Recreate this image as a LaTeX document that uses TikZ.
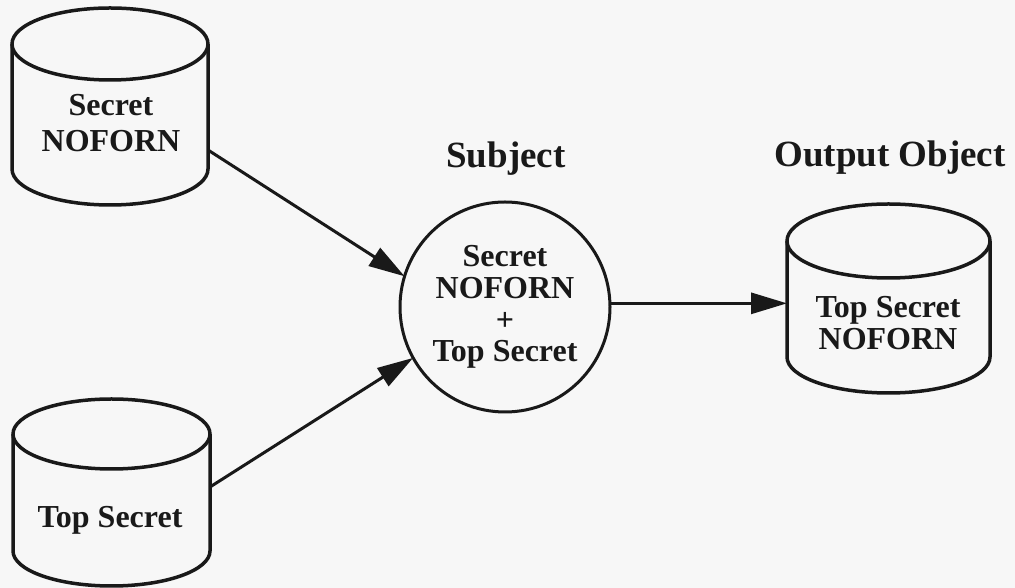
\documentclass[tikz,border=0pt]{standalone}
\usepackage{fontspec}
\setmainfont{Liberation Serif}
\usetikzlibrary{arrows.meta}

% outline of a drum (database cylinder) around a named body node
\newcommand{\drawdrum}[4]{% name, x radius, top y radius, bottom y radius
  \draw[drumline] (#1.north west) -- (#1.south west)
    arc[start angle=180, end angle=360, x radius=#2, y radius=#4]
    -- (#1.north east);
  \draw[drumline] (#1.north) ellipse [x radius=#2, y radius=#3];
}

\begin{document}
\begin{tikzpicture}[x=1pt, y=1pt,
  drumbody/.style={rectangle, draw=none, inner sep=0pt, outer sep=0pt},
  drumline/.style={draw=black!90, line width=3.5pt, line join=round},
  inlabel/.style={font=\bfseries\fontsize{32}{32}\selectfont, align=center, inner sep=0pt, text=black!90},
  toplabel/.style={font=\bfseries\fontsize{37}{40}\selectfont, inner sep=0pt, anchor=base, text=black!90},
  subj/.style={circle, draw=black!90, line width=3pt, minimum size=210pt, inner sep=0pt, outer sep=0pt,
    align=center, font=\bfseries\fontsize{32}{31.7}\selectfont, text=black!90},
  flow/.style={draw=black!90, line width=3pt, -{Triangle[length=36pt, width=21pt]}}]

  \fill[black!3] (0,0) rectangle (1015,588);
  \useasboundingbox (0,0) rectangle (1015,588);

  % input objects
  \node[drumbody, minimum width=196pt, minimum height=125pt] (A) at (110,481.5) {};
  \drawdrum{A}{98pt}{36pt}{36pt}
  \node[inlabel, font=\bfseries\fontsize{32}{36}\selectfont] (At) at (111,465) {Secret\\NOFORN};

  \node[drumbody, minimum width=197pt, minimum height=117pt] (B) at (111.5,95.5) {};
  \drawdrum{B}{98.5pt}{35pt}{35pt}
  \node[inlabel, anchor=base] (Bt) at (110,60) {Top Secret};

  % subject
  \node[subj] (S) at (505,281) {Secret\\NOFORN\\+\\Top Secret};
  \node[toplabel] (Sl) at (506,420) {Subject};

  % output object
  \node[drumbody, minimum width=203pt, minimum height=116pt] (C) at (888.5,289) {};
  \drawdrum{C}{101.5pt}{37pt}{36pt}
  \node[inlabel] (Ct) at (888,265) {Top Secret\\NOFORN};
  \node[toplabel] (Cl) at (890,421) {Output Object};

  % information flow
  \coordinate (a1) at ([yshift=-43.5pt]A.east);
  \coordinate (b1) at ([yshift=5.5pt]B.east);
  \draw[flow] (a1) -- (S.163);
  \draw[flow] (b1) -- (S.209);
  \draw[flow] (S.2) -- (S.2 -| C.west);
\end{tikzpicture}
\end{document}
